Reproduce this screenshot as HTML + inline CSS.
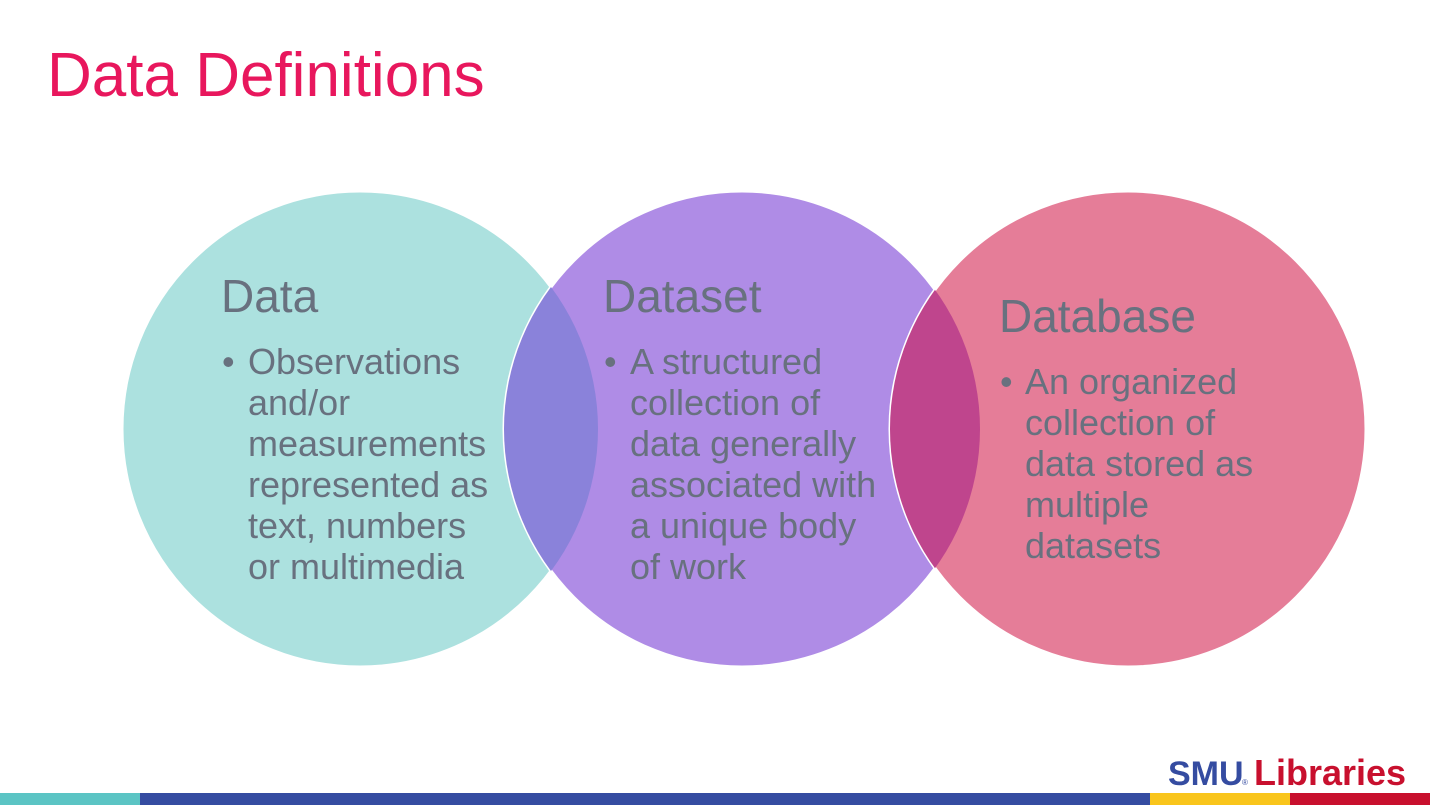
<!DOCTYPE html>
<html><head><meta charset="utf-8"><style>
html,body{margin:0;padding:0;background:#fff;}
svg{display:block;}
text{font-family:"Liberation Sans",Arial,sans-serif;}
</style></head><body>
<svg width="1430" height="805" viewBox="0 0 1430 805" xmlns="http://www.w3.org/2000/svg">
<defs>
<clipPath id="cT"><circle cx="360" cy="429" r="238"/></clipPath>
<clipPath id="cK"><circle cx="1128" cy="429" r="238"/></clipPath>
</defs>
<rect width="1430" height="805" fill="#fff"/>
<text x="47" y="96" font-size="62" fill="#e8175d">Data Definitions</text>
<circle cx="360" cy="429" r="238" fill="#ace1df" stroke="#fff" stroke-width="3"/>
<circle cx="742" cy="429" r="238" fill="#af8ce6" stroke="#fff" stroke-width="3"/>
<circle cx="742" cy="429" r="238" fill="#8a82da" clip-path="url(#cT)"/>
<circle cx="1128" cy="429" r="238" fill="#e57d98" stroke="#fff" stroke-width="3"/>
<circle cx="742" cy="429" r="238" fill="#bf458d" clip-path="url(#cK)"/>
<g fill="#68717f">
<text x="221" y="312" font-size="46">Data</text>
<g font-size="36">
<text x="222" y="374">•</text>
<text x="248" y="374">Observations</text>
<text x="248" y="415">and/or</text>
<text x="248" y="456">measurements</text>
<text x="248" y="497">represented as</text>
<text x="248" y="538">text, numbers</text>
<text x="248" y="579">or multimedia</text>
</g>
<text x="603" y="312" font-size="46">Dataset</text>
<g font-size="36">
<text x="604" y="374">•</text>
<text x="630" y="374">A structured</text>
<text x="630" y="415">collection of</text>
<text x="630" y="456">data generally</text>
<text x="630" y="497">associated with</text>
<text x="630" y="538">a unique body</text>
<text x="630" y="579">of work</text>
</g>
<text x="999" y="332" font-size="46">Database</text>
<g font-size="36">
<text x="1000" y="394">•</text>
<text x="1025" y="394">An organized</text>
<text x="1025" y="435">collection of</text>
<text x="1025" y="476">data stored as</text>
<text x="1025" y="517">multiple</text>
<text x="1025" y="558">datasets</text>
</g>
</g>
<text x="1168" y="785" font-size="34" font-weight="bold" fill="#354ca1">SMU</text>
<text x="1242" y="785" font-size="8" fill="#354ca1">®</text>
<text x="1254" y="785" font-size="36" font-weight="bold" fill="#c8102e">Libraries</text>
<rect x="0" y="793" width="140" height="12" fill="#5bc4c4"/>
<rect x="140" y="793" width="1010" height="12" fill="#354ca1"/>
<rect x="1150" y="793" width="140" height="12" fill="#f9c51c"/>
<rect x="1290" y="793" width="140" height="12" fill="#c8102e"/>
</svg>
</body></html>
